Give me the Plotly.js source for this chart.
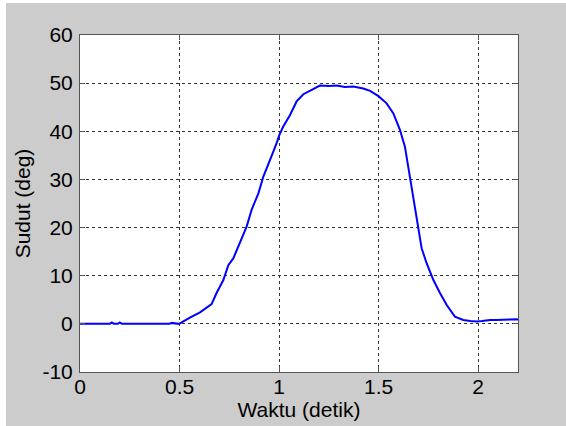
<!DOCTYPE html>
<html>
<head>
<meta charset="utf-8">
<script src="https://cdn.plot.ly/plotly-3.0.1.min.js"></script>
<style>
  html, body { margin: 0; padding: 0; background: #ffffff; }
  #chart { position: absolute; left: 6px; top: 3px; width: 560px; height: 423px; }
</style>
</head>
<body>
<div id="chart"></div>
<script>
// Time (s) and angle (deg)
const waktu = [0, 0.15, 0.16, 0.17, 0.19, 0.20, 0.21, 0.45, 0.46, 0.497, 0.552, 0.603, 0.661, 0.686,
  0.720, 0.745, 0.770, 0.804, 0.837, 0.862, 0.896, 0.921, 0.946, 0.971, 0.988, 1.001, 1.021,
  1.055, 1.088, 1.122, 1.164, 1.205, 1.25, 1.289, 1.33, 1.373, 1.423, 1.457, 1.499, 1.540,
  1.574, 1.607, 1.632, 1.657, 1.674, 1.691, 1.716, 1.741, 1.775, 1.808, 1.842, 1.883,
  1.925, 1.96, 1.992, 2.02, 2.059, 2.09, 2.126, 2.16, 2.193, 2.2];
const sudut = [0, 0, 0.3, 0, 0, 0.3, 0, 0, 0.2, 0, 1.3, 2.4, 4.1, 6.4,
  9.1, 12.2, 13.6, 17.1, 20.2, 23.7, 27.1, 30.6, 33.4, 35.8, 37.6, 39.2, 41.0,
  43.4, 46.2, 47.7, 48.6, 49.5, 49.4, 49.5, 49.2, 49.3, 48.9, 48.4, 47.3, 45.8,
  43.7, 40.3, 36.8, 30.6, 25.7, 21.6, 15.7, 12.6, 9.1, 6.4, 3.9, 1.5,
  0.8, 0.6, 0.5, 0.6, 0.8, 0.8, 0.9, 0.9, 0.95, 0.9];
const xTicks = [0, 0.5, 1, 1.5, 2];
const xTickText = ['0', '0.5', '1', '1.5', '2'];
const yTicks = [-10, 0, 10, 20, 30, 40, 50, 60];
const yTickText = ['-10', '0', '10', '20', '30', '40', '50', '60'];

const font = {family: 'Liberation Sans, Arial, sans-serif', size: 21, color: '#000000'};

const trace = {
  x: waktu, y: sudut, type: 'scatter', mode: 'lines',
  line: {color: '#0000ff', width: 2},
  hoverinfo: 'none'
};

const axisCommon = {
  showline: true, linecolor: '#555555', linewidth: 1, mirror: 'ticks',
  ticks: 'inside', ticklen: 5, tickcolor: '#555555', tickwidth: 1,
  showgrid: true, gridcolor: '#333333', gridwidth: 1, griddash: '3px,3px',
  zeroline: false, tickfont: font
};

const layout = {
  width: 560, height: 423,
  margin: {l: 74, r: 48, t: 32, b: 54},
  paper_bgcolor: '#cccccc', plot_bgcolor: '#ffffff',
  showlegend: false,
  font: font,
  xaxis: Object.assign({}, axisCommon, {
    range: [0, 2.2], tickvals: xTicks, ticktext: xTickText,
    title: {text: 'Waktu (detik)', font: font, standoff: 5},
    ticklabelstandoff: -4
  }),
  yaxis: Object.assign({}, axisCommon, {
    range: [-10, 60], tickvals: yTicks, ticktext: yTickText,
    title: {text: 'Sudut (deg)', font: font, standoff: 6},
    ticklabelstandoff: 2
  })
};

Plotly.newPlot('chart', [trace], layout, {staticPlot: true, displayModeBar: false});
</script>
</body>
</html>
